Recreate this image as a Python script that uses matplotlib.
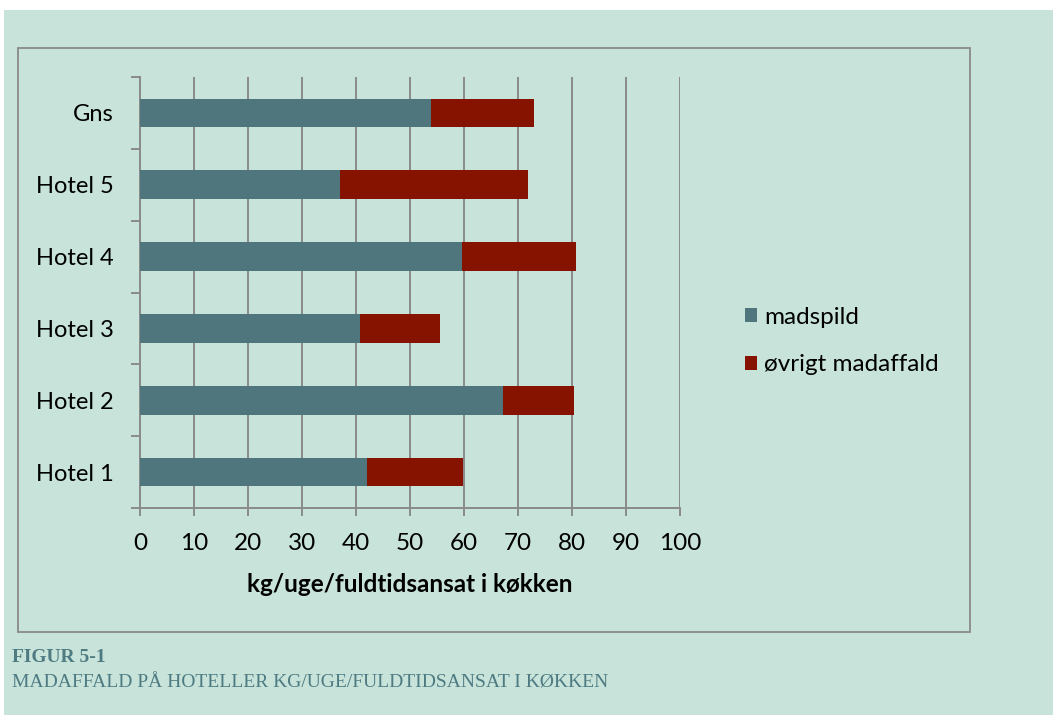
import matplotlib
matplotlib.use("Agg")
import matplotlib.pyplot as plt
from matplotlib.patches import Rectangle
import numpy as np

# data, kg per week per full-time kitchen employee
hotels = ["Hotel 1", "Hotel 2", "Hotel 3", "Hotel 4", "Hotel 5", "Gns"]
madspild = [42.0, 67.2, 40.8, 59.6, 37.0, 53.8]
oevrigt = [17.9, 13.2, 14.8, 21.1, 34.9, 19.1]
xticks = list(range(0, 101, 10))

bg = "#c7e3da"
teal = "#4f767c"
red = "#861300"
grey = "#8a8a8a"
capcol = "#4e7b82"

W, H = 1053, 715
fig = plt.figure(figsize=(W / 100, H / 100), dpi=100)
fig.patch.set_facecolor("white")


def fx(px):
    return px / W


def fy(py):
    return 1 - py / H


# panel background and chart frame
fig.patches.append(Rectangle((fx(4), 0), 1 - fx(4), fy(10), transform=fig.transFigure,
                             facecolor=bg, edgecolor="none", zorder=-2))
fig.patches.append(Rectangle((fx(18), fy(632)), fx(970) - fx(18), fy(48) - fy(632),
                             transform=fig.transFigure, facecolor="none",
                             edgecolor=grey, lw=1.3, zorder=-1))

ax = fig.add_axes([fx(140), fy(508), fx(680) - fx(140), fy(77) - fy(508)])
ax.set_facecolor("none")

y = np.arange(len(hotels))
ax.barh(y, madspild, height=0.4, color=teal, label="madspild", zorder=3)
ax.barh(y, oevrigt, left=madspild, height=0.4, color=red, label="øvrigt madaffald", zorder=3)

ax.set_xlim(0, 100)
ax.set_ylim(-0.5, len(hotels) - 0.5)
ax.set_xticks(xticks)
ax.set_yticks(y)
ax.set_yticklabels(hotels)
ax.set_yticks(np.arange(-0.5, len(hotels)), minor=True)

ax.xaxis.grid(True, color=grey, lw=1.4, zorder=0)
ax.set_axisbelow(True)
for s in ["top", "right"]:
    ax.spines[s].set_visible(False)
for s in ["left", "bottom"]:
    ax.spines[s].set_color(grey)
    ax.spines[s].set_linewidth(1.4)

font = "Lato"
fs = 17.5
ax.tick_params(axis="y", which="major", length=0, pad=19, labelsize=17)
ax.tick_params(axis="y", which="minor", length=6.5, width=1.4, color=grey)
ax.tick_params(axis="x", length=6, width=1.4, color=grey, pad=12, labelsize=fs)
for lab in ax.get_xticklabels() + ax.get_yticklabels():
    lab.set_fontfamily(font)

ax.set_xlabel("kg/uge/fuldtidsansat i køkken", fontsize=fs, fontweight="bold",
              fontfamily=font, labelpad=14)

leg = fig.legend(loc="center left", bbox_to_anchor=(fx(745), fy(341)), frameon=False,
                 prop={"family": font, "size": fs}, handlelength=0.5, handleheight=0.5,
                 handletextpad=0.3, labelspacing=1.1, borderpad=0, borderaxespad=0)

fig.text(fx(12), fy(657), "FIGUR 5-1", fontfamily="Liberation Serif", fontweight="bold",
         fontsize=14, color=capcol, va="center")
fig.text(fx(12), fy(683), "MADAFFALD PÅ HOTELLER KG/UGE/FULDTIDSANSAT I KØKKEN",
         fontfamily="Liberation Serif", fontsize=14, color=capcol, va="center")

fig.savefig("out.png", dpi=100, facecolor=fig.get_facecolor())
